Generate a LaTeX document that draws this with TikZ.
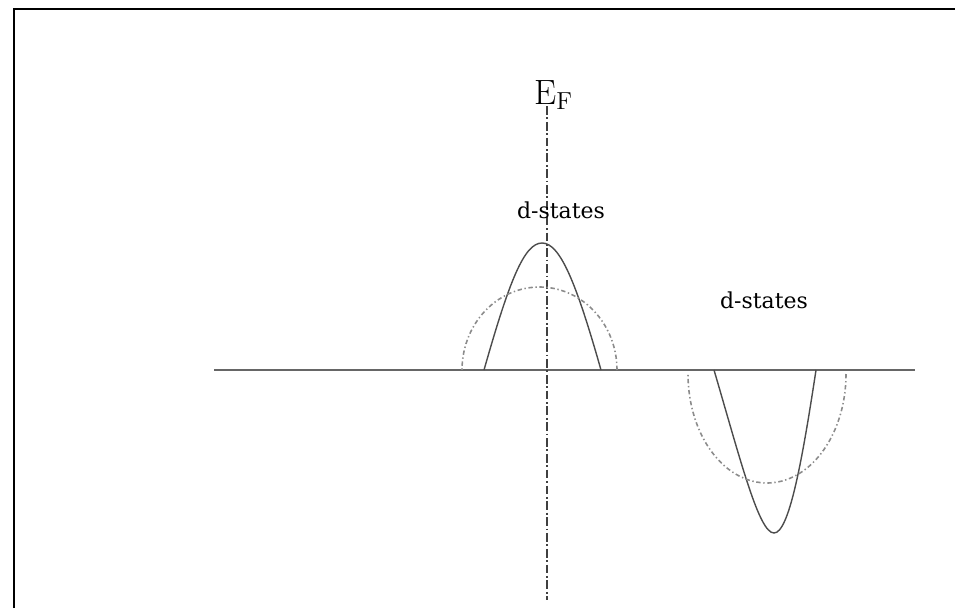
\documentclass[tikz,border=0pt]{standalone}
\usepackage{fontspec}
\newfontfamily\labelfont{DejaVu Serif}

\begin{document}
\begin{tikzpicture}[
  x=0.02cm, y=-0.02cm,
  every node/.style={inner sep=0pt},
  frameline/.style={line width=1.3pt, black},
  axisline/.style={line width=1.1pt, black!60},
  fermiline/.style={line width=0.8pt, black!75, dash pattern=on 5pt off 1.5pt on 1pt off 1.5pt},
  dosline/.style={line width=0.8pt, black!70},
  freeline/.style={line width=0.9pt, black!45, dash pattern=on 2.5pt off 1.5pt on 0.8pt off 1.5pt},
  statelabel/.style={font=\labelfont\fontsize{12.5}{15}\selectfont},
]
\useasboundingbox (0,0) rectangle (955,608);

% ---- frame: only left and top edges show ----
\draw[frameline] (14,608) -- (14,9) -- (955,9);

% ---- energy axis ----
\coordinate (axl) at (214,370);
\coordinate (axr) at (915,370);
\draw[axisline] (axl) -- (axr);

% ---- Fermi level ----
\node[font=\fontsize{20}{24}\selectfont, anchor=base west] (ef) at (534,104) {E$_{\mathrm{F}}$};
\coordinate (eftop) at (547,106);
\coordinate (efbot) at (547,600);
\draw[fermiline] (eftop) -- (efbot);

% ---- labels ----
\node[statelabel] (dup)   at (561,210) {d-states};
\node[statelabel] (ddown) at (764,300) {d-states};

% ---- upper d band: solid peak and dotted free-atom shape ----
\draw[dosline] (484,370) .. controls (509,282) and (524,243) .. (542,243)
  .. controls (560,243) and (576,282) .. (601,370);
\draw[freeline] plot[domain=0:180, samples=60, smooth] ({539.5+77.5*cos(\x)},{370-83*sin(\x)});

% ---- lower d band ----
\draw[dosline] (714,370) .. controls (741,462) and (759,533) .. (774,533)
  .. controls (789,533) and (802,462) .. (816,370);
\draw[freeline] plot[domain=0:180, samples=60, smooth] ({767+79*cos(\x)},{374+109*sin(\x)});

\end{tikzpicture}
\end{document}
